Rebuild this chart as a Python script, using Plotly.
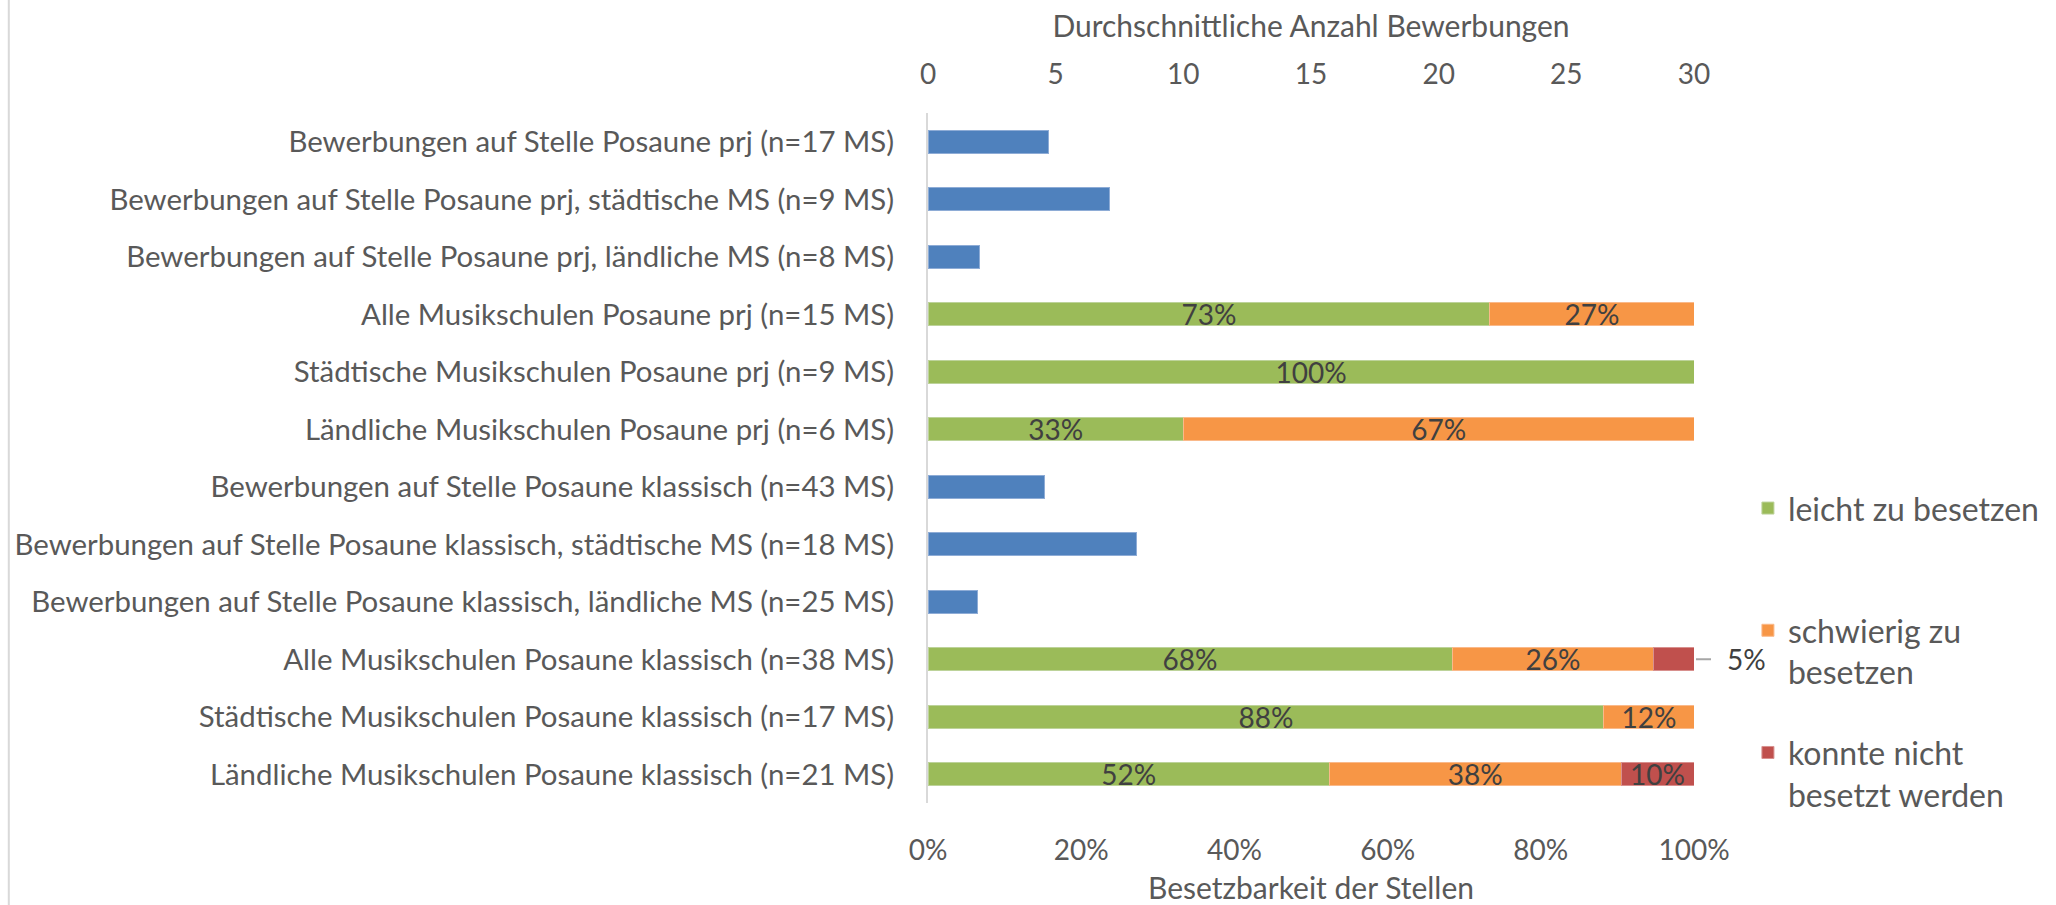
import plotly.graph_objects as go

# Rows top to bottom
categories = [
    "Bewerbungen auf Stelle Posaune prj (n=17 MS)",
    "Bewerbungen auf Stelle Posaune prj, städtische MS (n=9 MS)",
    "Bewerbungen auf Stelle Posaune prj, ländliche MS (n=8 MS)",
    "Alle Musikschulen Posaune prj (n=15 MS)",
    "Städtische Musikschulen Posaune prj (n=9 MS)",
    "Ländliche Musikschulen Posaune prj (n=6 MS)",
    "Bewerbungen auf Stelle Posaune klassisch (n=43 MS)",
    "Bewerbungen auf Stelle Posaune klassisch, städtische MS (n=18 MS)",
    "Bewerbungen auf Stelle Posaune klassisch, ländliche MS (n=25 MS)",
    "Alle Musikschulen Posaune klassisch (n=38 MS)",
    "Städtische Musikschulen Posaune klassisch (n=17 MS)",
    "Ländliche Musikschulen Posaune klassisch (n=21 MS)",
]

# average number of applications (top axis)
bewerbungen = [4.7, 7.1, 2.0, None, None, None, 4.55, 8.15, 1.95, None, None, None]

# share of positions (bottom axis, percent)
leicht = [None, None, None, 73.33, 100.0, 33.33, None, None, None, 68.42, 88.24, 52.38]
schwierig = [None, None, None, 26.67, None, 66.67, None, None, None, 26.32, 11.76, 38.10]
nicht_besetzt = [None, None, None, None, None, None, None, None, None, 5.26, None, 9.52]

FONT = "Lato"
GREY = "#595959"
LABEL_GREY = "#404040"


def pct_text(vals, skip=()):
    return ["" if v is None or i in skip else f"{v:.0f}%" for i, v in enumerate(vals)]


fig = go.Figure()

fig.add_trace(go.Bar(
    y=categories, x=bewerbungen, orientation="h",
    xaxis="x2", yaxis="y",
    marker=dict(color="#4F81BD", line=dict(color="#8EACD6", width=1)),
    showlegend=False, name="Bewerbungen",
))

series = [
    # first entry padded to two lines so the legend spacing is even
    ("leicht zu besetzen<br> ", leicht, "#9BBB59", "#BDD39A"),
    ("schwierig zu<br>besetzen", schwierig, "#F79646", "#FAB98A"),
    ("konnte nicht<br>besetzt werden", nicht_besetzt, "#C0504D", "#D8908E"),
]
for i, (name, vals, color, edge) in enumerate(series):
    # the small 5% slice gets an outside label with leader line
    skip = (9,) if vals is nicht_besetzt else ()
    fig.add_trace(go.Bar(
        y=categories, x=[None if v is None else v / 100 for v in vals],
        orientation="h", name=name, legendgroup=f"g{i}",
        marker=dict(color=color, line=dict(color=edge, width=1)),
        text=pct_text(vals, skip), textposition="inside",
        insidetextanchor="middle", constraintext="none",
        textfont=dict(family=FONT, size=28, color=LABEL_GREY),
        hoverinfo="x+y",
    ))

row_total = round((leicht[9] + schwierig[9] + nicht_besetzt[9]) / 100, 6)
fig.add_annotation(
    x=row_total, y=categories[9],
    xref="x", yref="y", text=f"{nicht_besetzt[9]:.0f}%",
    showarrow=True, arrowhead=0, arrowwidth=2, arrowcolor="#A6A6A6",
    ax=52, ay=0, startstandoff=14, standoff=2,
    font=dict(family=FONT, size=28, color=LABEL_GREY),
)

# outer chart frame (left edge only visible)
fig.add_shape(type="line", xref="paper", yref="paper",
              x0=-1.2, x1=-1.2, y0=-0.2, y1=1.25,
              line=dict(color="#D9D9D9", width=2))

fig.update_layout(
    width=2056, height=905,
    margin=dict(l=928, r=361, t=113, b=102),
    barmode="stack", bargap=0.6,
    plot_bgcolor="white", paper_bgcolor="white",
    font=dict(family=FONT, size=26, color=GREY),
    xaxis=dict(
        range=[0, 1], tickformat=".0%", dtick=0.2, tick0=0,
        showgrid=False, zeroline=False, showline=False, automargin=False,
        ticks="", ticklabelstandoff=28,
        title=dict(text="Besetzbarkeit der Stellen", standoff=16,
                   font=dict(size=30, color=GREY)),
        tickfont=dict(size=28, color=GREY),
    ),
    xaxis2=dict(
        range=[0, 30], dtick=5, tick0=0, overlaying="x", side="top",
        showgrid=False, zeroline=False, showline=False, automargin=False,
        ticks="", ticklabelstandoff=22,
        title=dict(text="Durchschnittliche Anzahl Bewerbungen", standoff=9,
                   font=dict(size=30, color=GREY)),
        tickfont=dict(size=28, color=GREY),
    ),
    yaxis=dict(
        autorange="reversed", showgrid=False, zeroline=False, automargin=False,
        showline=True, linecolor="#D9D9D9", linewidth=2,
        ticks="", ticklabelstandoff=26,
        tickfont=dict(size=29.4, color=GREY),
    ),
    legend=dict(
        x=1.069, y=0.467, xanchor="left", yanchor="top",
        valign="top", tracegroupgap=36,
        font=dict(size=32, color=GREY),
        bgcolor="rgba(0,0,0,0)",
    ),
)

fig.write_html("out.html", config={"displayModeBar": False},
               post_script="document.body.style.margin='0';")
